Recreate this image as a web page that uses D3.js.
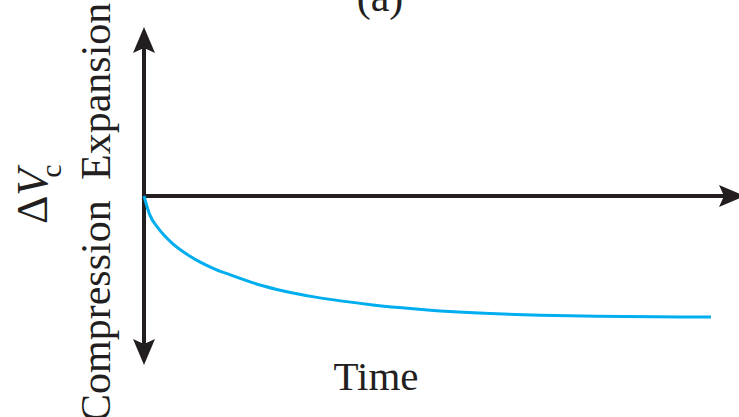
<!DOCTYPE html>
<html>
<head>
<meta charset="utf-8">
<script src="https://cdn.jsdelivr.net/npm/d3@7"></script>
<style>
  html, body { margin: 0; padding: 0; background: #ffffff; }
  svg { display: block; }
  text { font-family: "Liberation Serif", "Times New Roman", serif; fill: #231F20; }
</style>
</head>
<body>
<svg id="chart" width="739" height="417"></svg>
<script>
// ---- data ----
const timeValues = [0, 0.1, 0.25, 0.5, 0.75, 1, 1.25, 1.5, 2, 2.5, 3, 3.5, 4, 4.5, 5, 6, 7, 8, 9, 10];
const deltaVc    = [0, -0.11, -0.19, -0.28, -0.343, -0.393, -0.432, -0.464, -0.522, -0.565, -0.597, -0.622, -0.643, -0.66, -0.674, -0.694, -0.706, -0.712, -0.715, -0.716];
const xDomain = [0, 10.6];
const yDomain = [-1, 1];
const panelTitle = "(a)";
const xTitle = "Time";
const yTitleMain = "ΔV";
const yTitleSub = "c";
const upperLabel = "Expansion";
const lowerLabel = "Compression";

// ---- drawing ----
const svg = d3.select("#chart");
const axisColor = "#231F20";
const lineColor = "#00AEEF";

const x = d3.scaleLinear().domain(xDomain).range([144, 745]);
const y = d3.scaleLinear().domain(yDomain).range([365, 27]);

const x0 = x(0), y0 = y(0);

// axes lines
svg.append("line")
  .attr("x1", x0).attr("x2", x0)
  .attr("y1", y(yDomain[1]) + 12).attr("y2", y(yDomain[0]) - 12)
  .attr("stroke", axisColor).attr("stroke-width", 4);
svg.append("line")
  .attr("x1", x0 - 2).attr("x2", x(xDomain[1]) - 12)
  .attr("y1", y0).attr("y2", y0)
  .attr("stroke", axisColor).attr("stroke-width", 4);

// arrowheads
const head = "M0,0 L11,26 L0,21 L-11,26 Z";
svg.append("path").attr("d", head)
  .attr("transform", `translate(${x0},${y(yDomain[1])})`).attr("fill", axisColor);
svg.append("path").attr("d", head)
  .attr("transform", `translate(${x0},${y(yDomain[0])}) rotate(180)`).attr("fill", axisColor);
svg.append("path").attr("d", head)
  .attr("transform", `translate(${x(xDomain[1])},${y0}) rotate(90)`).attr("fill", axisColor);

// curve
const pts = timeValues.map((t, i) => [t, deltaVc[i]]);
svg.append("path")
  .datum(pts)
  .attr("d", d3.line().x(d => x(d[0])).y(d => y(d[1])).curve(d3.curveMonotoneX))
  .attr("fill", "none")
  .attr("stroke", lineColor)
  .attr("stroke-width", 3)
  .attr("stroke-linecap", "butt");

// panel title (clipped at top)
svg.append("text")
  .attr("x", 380).attr("y", 11)
  .attr("text-anchor", "middle")
  .attr("font-size", 42)
  .text(panelTitle);

// x title
svg.append("text")
  .attr("x", 376).attr("y", 390)
  .attr("text-anchor", "middle")
  .attr("font-size", 41)
  .text(xTitle);

// rotated side labels
svg.append("text")
  .attr("transform", "translate(110,180) rotate(-90)")
  .attr("text-anchor", "start")
  .attr("font-size", 42)
  .text(upperLabel);
svg.append("text")
  .attr("transform", "translate(110,422) rotate(-90)")
  .attr("text-anchor", "start")
  .attr("font-size", 42)
  .text(lowerLabel);

// ΔV_c
const yt = svg.append("text")
  .attr("transform", "translate(47,224) rotate(-90)")
  .attr("text-anchor", "start")
  .attr("font-size", 44);
yt.append("tspan").text(yTitleMain.slice(0, 1));
yt.append("tspan").attr("font-style", "italic").text(yTitleMain.slice(1));
yt.append("tspan").attr("font-size", 30).attr("dx", -9).attr("dy", 14).text(yTitleSub);
</script>
</body>
</html>
